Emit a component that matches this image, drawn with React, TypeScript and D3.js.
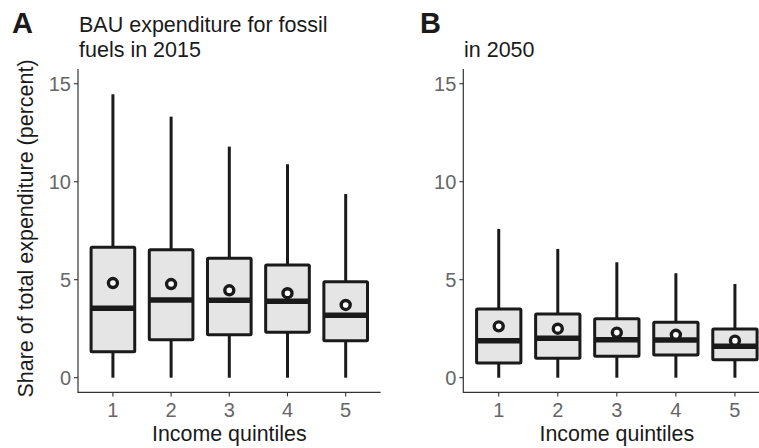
import React from "react";
import * as d3 from "d3";

const quintiles = ["1", "2", "3", "4", "5"];
// Panel A: BAU 2015
const a_whiskerLow = [0, 0, 0, 0, 0];
const a_q1 = [1.33, 1.94, 2.19, 2.32, 1.89];
const a_median = [3.54, 3.96, 3.95, 3.9, 3.18];
const a_q3 = [6.65, 6.53, 6.09, 5.75, 4.9];
const a_whiskerHigh = [14.46, 13.32, 11.79, 10.89, 9.37];
const a_mean = [4.83, 4.78, 4.46, 4.31, 3.71];
// Panel B: 2050
const b_whiskerLow = [0, 0, 0, 0, 0];
const b_q1 = [0.75, 0.99, 1.09, 1.16, 0.92];
const b_median = [1.89, 2.01, 1.94, 1.92, 1.6];
const b_q3 = [3.5, 3.25, 3.01, 2.83, 2.48];
const b_whiskerHigh = [7.59, 6.57, 5.89, 5.33, 4.78];
const b_mean = [2.62, 2.5, 2.3, 2.19, 1.89];

const yTicks = [0, 5, 10, 15];
const FONT = "'Liberation Sans', Arial, Helvetica, sans-serif";

type PanelProps = {
  x0: number;
  x1: number;
  lo: number[];
  q1: number[];
  med: number[];
  q3: number[];
  hi: number[];
  mean: number[];
};

const y = d3.scaleLinear().domain([-0.75, 15.75]).range([392.4, 69]);

function Panel({ x0, x1, lo, q1, med, q3, hi, mean }: PanelProps) {
  const x = d3.scaleLinear().domain([0.4, 5.6]).range([x0, x1]);
  const step = x(2) - x(1);
  const bw = step * 0.75;
  const yBottom = y(-0.75);
  const yTop = y(15.75);
  return (
    <g>
      {quintiles.map((q, i) => {
        const cx = x(i + 1);
        return (
          <g key={q}>
            <line x1={cx} x2={cx} y1={y(hi[i])} y2={y(q3[i])} stroke="#1a1a1a" strokeWidth={3} />
            <line x1={cx} x2={cx} y1={y(q1[i])} y2={y(lo[i])} stroke="#1a1a1a" strokeWidth={3} />
            <rect
              x={cx - bw / 2}
              y={y(q3[i])}
              width={bw}
              height={y(q1[i]) - y(q3[i])}
              fill="#e5e5e5"
              stroke="#1a1a1a"
              strokeWidth={3}
              rx={1}
            />
            <line x1={cx - bw / 2} x2={cx + bw / 2} y1={y(med[i])} y2={y(med[i])} stroke="#1a1a1a" strokeWidth={5.5} />
            <circle cx={cx} cy={y(mean[i])} r={4.5} fill="white" stroke="#1a1a1a" strokeWidth={3.4} />
          </g>
        );
      })}
      {/* axes */}
      <line x1={x0} x2={x0} y1={yTop} y2={yBottom + 0.6} stroke="#333" strokeWidth={1.2} />
      <line x1={x0} x2={x1} y1={yBottom} y2={yBottom} stroke="#333" strokeWidth={1.2} />
      {yTicks.map((t) => (
        <g key={t}>
          <line x1={x0 - 4} x2={x0} y1={y(t)} y2={y(t)} stroke="#333" strokeWidth={1.1} />
          <text x={x0 - 7} y={y(t)} dy="0.36em" textAnchor="end" fontSize={20} fill="#666666" fontFamily={FONT}>
            {t}
          </text>
        </g>
      ))}
      {quintiles.map((q, i) => (
        <g key={q}>
          <line x1={x(i + 1)} x2={x(i + 1)} y1={yBottom} y2={yBottom + 4} stroke="#333" strokeWidth={1.1} />
          <text x={x(i + 1)} y={yBottom + 24.5} textAnchor="middle" fontSize={20} fill="#666666" fontFamily={FONT}>
            {q}
          </text>
        </g>
      ))}
      <text x={(x0 + x(5.6)) / 2} y={440.5} textAnchor="middle" fontSize={21.4} fill="#1a1a1a" fontFamily={FONT}>
        Income quintiles
      </text>
    </g>
  );
}

export default function App() {
  return (
    <svg width={759} height={448} style={{ position: "absolute", left: 0, top: 0, background: "white" }}>
      <rect width={759} height={448} fill="white" />
      <Panel x0={78} x1={380.6} lo={a_whiskerLow} q1={a_q1} med={a_median} q3={a_q3} hi={a_whiskerHigh} mean={a_mean} />
      <Panel x0={463.3} x1={463.3 + 5.2 * 59.05} lo={b_whiskerLow} q1={b_q1} med={b_median} q3={b_q3} hi={b_whiskerHigh} mean={b_mean} />
      <text x={12} y={33} fontSize={29} fontWeight="bold" fill="#1a1a1a" fontFamily={FONT}>A</text>
      <text x={79} y={32.3} fontSize={21.5} fill="#1a1a1a" fontFamily={FONT}>BAU expenditure for fossil</text>
      <text x={79} y={57.3} fontSize={21.5} fill="#1a1a1a" fontFamily={FONT}>fuels in 2015</text>
      <text x={420} y={33} fontSize={29} fontWeight="bold" fill="#1a1a1a" fontFamily={FONT}>B</text>
      <text x={464} y={57.3} fontSize={21.5} fill="#1a1a1a" fontFamily={FONT}>in 2050</text>
      <text
        transform={`translate(33,228.5) rotate(-90)`}
        textAnchor="middle"
        fontSize={21.5}
        fill="#1a1a1a"
        fontFamily={FONT}
      >
        Share of total expenditure (percent)
      </text>
    </svg>
  );
}
